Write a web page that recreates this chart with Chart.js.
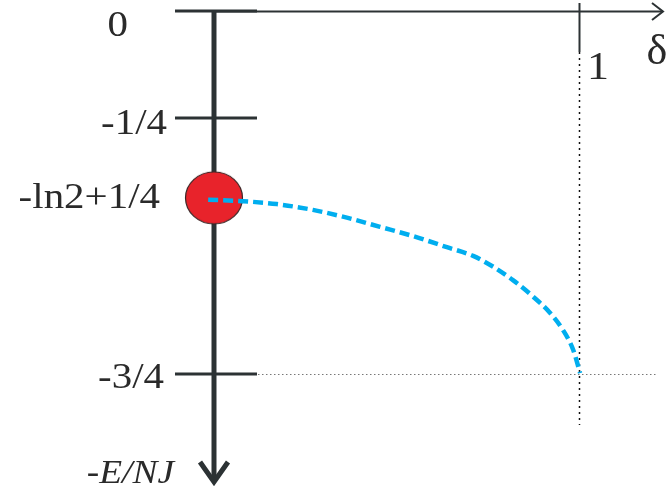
<!DOCTYPE html>
<html lang="en">
<head>
    <meta charset="UTF-8">
    <title>Energy vs delta</title>
    <script src="https://cdn.jsdelivr.net/npm/chart.js"></script>
</head>
<body style="margin:0;background:#fff;">
    <canvas id="myChart" width="669" height="498"></canvas>

    <script>
        // values (vertical axis in the drawn units of the diagram)
        const levelValues = [0, -0.221, -0.386, -0.75];
        const levelLabels = ['0', '-1/4', '-ln2+1/4', '-3/4'];
        const levelMarks = [0, -0.221, -0.75];

        const deltaTicks = [1];
        const deltaLabels = ['1'];

        // dashed blue curve
        const deltaVals = [-0.016, 0.08, 0.172, 0.271, 0.364, 0.455, 0.545, 0.638, 0.71, 0.764, 0.819, 0.874, 0.921, 0.956, 0.984, 1.003];
        const energyVals = [-0.39, -0.393, -0.399, -0.411, -0.427, -0.446, -0.465, -0.488, -0.506, -0.528, -0.556, -0.59, -0.624, -0.659, -0.7, -0.748];

        // red dot at delta = 0
        const dotDelta = [0];
        const dotEnergy = [-0.386];

        const AXIS = '#2c3234';
        const TEXT = '#2a2a2a';
        const SERIF = '"Liberation Serif", "Times New Roman", Times, serif';

        // ellipse shaped point
        const dot = document.createElement('canvas');
        dot.width = 60; dot.height = 56;
        const dctx = dot.getContext('2d');
        dctx.beginPath();
        dctx.ellipse(30, 28, 28.5, 26, 0, 0, Math.PI * 2);
        dctx.fillStyle = '#e8232b';
        dctx.fill();
        dctx.lineWidth = 1.2;
        dctx.strokeStyle = '#3a2626';
        dctx.stroke();

        function stretchText(ctx, txt, x, y, sx) {
            ctx.save();
            ctx.translate(x, y);
            ctx.scale(sx, 1);
            ctx.fillText(txt, 0, 0);
            ctx.restore();
        }

        const axesBelow = {
            id: 'axesBelow',
            beforeDatasetsDraw(chart) {
                const ctx = chart.ctx;
                const xs = chart.scales.x, ys = chart.scales.y;
                const x0 = xs.getPixelForValue(0);
                const yTop = ys.getPixelForValue(0);
                const x1 = Math.round(xs.getPixelForValue(deltaTicks[0])) + 0.5;
                const y34 = Math.round(ys.getPixelForValue(-0.75)) + 0.5;
                ctx.save();

                // dotted guides at delta = 1 and -3/4
                ctx.setLineDash([2, 4]);
                ctx.lineWidth = 1.5;
                ctx.strokeStyle = '#111';
                ctx.beginPath();
                ctx.moveTo(x1, 52); ctx.lineTo(x1, 425);
                ctx.stroke();
                ctx.setLineDash([1.5, 2.5]);
                ctx.lineWidth = 1;
                ctx.strokeStyle = '#777';
                ctx.beginPath();
                ctx.moveTo(x0 + 44, y34); ctx.lineTo(657, y34);
                ctx.stroke();
                ctx.setLineDash([]);

                // horizontal delta axis with arrow
                ctx.strokeStyle = AXIS;
                ctx.lineWidth = 2;
                ctx.beginPath();
                ctx.moveTo(x0, yTop + 0.5); ctx.lineTo(663, yTop + 0.5);
                ctx.stroke();
                ctx.beginPath();
                ctx.moveTo(652, yTop - 8); ctx.lineTo(663, yTop + 0.5); ctx.lineTo(652, yTop + 9);
                ctx.stroke();
                // tick at delta = 1
                ctx.beginPath();
                ctx.moveTo(x1, 3); ctx.lineTo(x1, 52);
                ctx.stroke();

                // vertical energy axis
                ctx.lineWidth = 5;
                ctx.beginPath();
                ctx.moveTo(x0, yTop - 1); ctx.lineTo(x0, 482);
                ctx.stroke();
                ctx.beginPath();
                ctx.moveTo(x0 - 14, 462); ctx.lineTo(x0, 482); ctx.lineTo(x0 + 14, 462);
                ctx.stroke();

                // level tick marks
                ctx.lineWidth = 3;
                levelMarks.forEach(v => {
                    const y = ys.getPixelForValue(v);
                    ctx.beginPath();
                    ctx.moveTo(x0 - 39, y); ctx.lineTo(x0 + 43, y);
                    ctx.stroke();
                });
                ctx.restore();
            },
            afterDraw(chart) {
                const ctx = chart.ctx;
                const xs = chart.scales.x, ys = chart.scales.y;
                ctx.save();
                ctx.fillStyle = TEXT;
                ctx.textBaseline = 'middle';
                ctx.textAlign = 'right';
                ctx.font = '35px ' + SERIF;
                const offs = [16, 7, 1, 5];
                const rights = [128, 167, 160, 164];
                levelValues.forEach((v, i) => {
                    const y = ys.getPixelForValue(v) + offs[i];
                    stretchText(ctx, levelLabels[i], rights[i], y, 1.17);
                });
                ctx.font = 'italic 34px ' + SERIF;
                stretchText(ctx, '-E/NJ', 174, 474, 1.1);

                ctx.textAlign = 'center';
                ctx.font = '40px ' + SERIF;
                deltaTicks.forEach((v, i) => {
                    stretchText(ctx, deltaLabels[i], xs.getPixelForValue(v) + 19, 68, 1.1);
                });
                ctx.font = '42px ' + SERIF;
                stretchText(ctx, 'δ', 657, 53, 1.05);
                ctx.restore();
            }
        };

        function draw() {
            new Chart(document.getElementById('myChart'), {
                type: 'scatter',
                data: {
                    datasets: [
                        {
                            label: 'curve',
                            data: deltaVals.map((d, i) => ({ x: d, y: energyVals[i] })),
                            showLine: true,
                            borderColor: '#00aeef',
                            borderWidth: 4.5,
                            borderDash: [10, 5],
                            pointRadius: 0,
                            cubicInterpolationMode: 'monotone',
                            fill: false,
                        },
                        {
                            label: 'dot',
                            data: dotDelta.map((d, i) => ({ x: d, y: dotEnergy[i] })),
                            pointStyle: dot,
                            pointRadius: 28,
                        }
                    ]
                },
                options: {
                    responsive: false,
                    animation: false,
                    layout: { padding: 0, autoPadding: false },
                    scales: {
                        x: { type: 'linear', display: false, min: -0.5863, max: 1.2466 },
                        y: { type: 'linear', display: false, min: -1.0062, max: 0.0227 },
                    },
                    plugins: {
                        legend: { display: false },
                        tooltip: { enabled: false },
                    }
                },
                plugins: [axesBelow]
            });
        }

        Promise.all([
            document.fonts.load('35px "Liberation Serif"'),
            document.fonts.load('italic 34px "Liberation Serif"')
        ]).then(draw, draw);
    </script>
</body>
</html>
